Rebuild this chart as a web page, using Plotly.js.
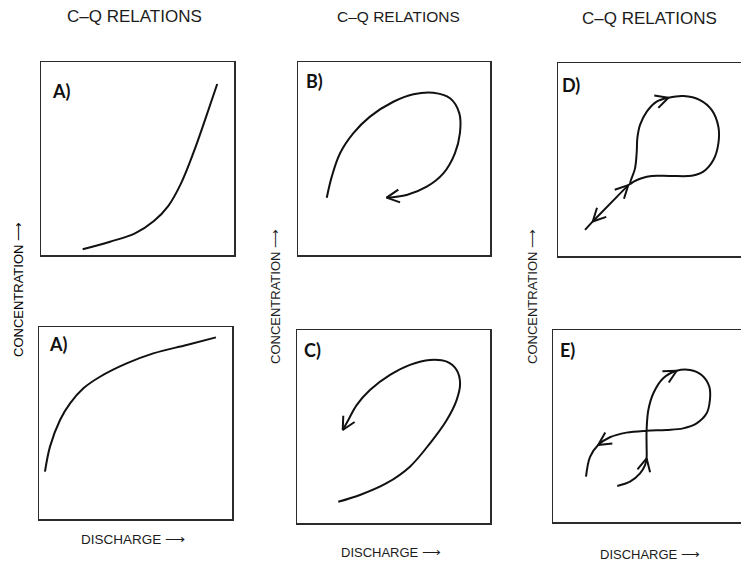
<!DOCTYPE html>
<html>
<head>
<meta charset="utf-8">
<script src="https://cdn.plot.ly/plotly-3.0.1.min.js"></script>
<style>
  html, body { margin: 0; padding: 0; background: #fff; }
  #chart { width: 741px; height: 562px; }
</style>
</head>
<body>
<div id="chart"></div>
<script>
// C–Q relation sketches. Curve coordinates are in box units (0 = left/bottom edge).

// A) concentration rising with discharge (concave up)
const aRiseX = [21.6, 35.8, 48.7, 58.5, 66.0, 72.5, 79.0, 85.0, 91.3];
const aRiseY = [3.0, 6.9, 11.2, 17.6, 25.5, 37.0, 53.0, 70.0, 88.6];

// A) concentration levelling off with discharge
const aSatX = [3.1, 5.7, 10.9, 16.1, 23.0, 31.6, 45.4, 59.2, 76.5, 91.7];
const aSatY = [24.5, 37.5, 51.3, 59.9, 67.7, 73.7, 80.6, 85.8, 90.2, 94.1];

// B) clockwise hysteresis loop
const bX = [14.9, 17.5, 21.8, 28.7, 37.3, 49.4, 59.8, 70.1, 78.8, 83.6, 83.9, 81.3, 75.3, 66.7, 56.3, 45.9];
const bY = [29.7, 40.6, 52.7, 63.1, 71.7, 79.4, 83.3, 84.1, 81.2, 73.4, 63.1, 52.7, 42.3, 35.4, 31.1, 29.7];

// C) anticlockwise hysteresis loop
const cX = [21.4, 32.6, 46.4, 58.5, 68.9, 77.6, 82.7, 84.5, 82.7, 77.6, 68.9, 58.5, 48.2, 37.8, 30.9, 26.6, 23.7];
const cY = [11.0, 14.5, 20.6, 29.2, 41.3, 53.4, 63.7, 72.4, 79.3, 83.6, 84.5, 81.9, 76.7, 68.9, 61.1, 53.4, 48.2];

// D) single loop on a shared rising/falling limb
const dStemX = [14.0, 18.0, 36.4, 37.3];
const dStemY = [13.5, 17.9, 36.7, 37.3];
const dLoopX = [37.3, 39.9, 40.8, 41.1, 42.5, 46.0, 51.1, 57.2, 65.0, 73.6, 79.7, 83.1, 83.1, 80.5, 75.3, 69.2, 58.0, 48.5, 43.3, 39.0, 37.3];
const dLoopY = [37.3, 45.4, 54.0, 60.9, 67.9, 74.8, 80.0, 82.0, 82.9, 80.8, 75.6, 67.0, 58.4, 49.7, 43.7, 41.6, 41.5, 41.5, 40.3, 38.4, 37.3];

// E) figure-of-eight
const eX = [33.3, 39.9, 45.1, 47.7, 48.5, 48.5, 48.5, 49.4, 52.0, 57.1, 64.1, 71.0, 77.0, 81.0, 81.3, 79.6, 74.4, 67.4, 58.8, 48.5, 38.1, 29.5, 23.4, 19.2, 17.1];
const eY = [18.7, 20.9, 25.2, 29.5, 33.0, 39.0, 47.7, 58.0, 66.7, 74.5, 78.4, 78.8, 76.2, 70.1, 63.2, 56.3, 51.1, 48.5, 47.7, 47.3, 46.3, 43.9, 39.9, 33.8, 23.5];

// Direction arrows: [curve point index, +1 = travel direction / -1 = against it]
const bArrows = [[15, 1]];
const cArrows = [[16, 1]];
const dStemArrows = [[1, -1], [2, 1]];
const dLoopArrows = [[7, 1]];
const eArrows = [[4, 1], [10, 1], [22, 1]];

// Text
const panelTitle = 'C\u2013Q RELATIONS';
const xLabel = 'DISCHARGE \u27F6';
const yLabel = 'CONCENTRATION \u27F6';
const panelTags = ['A)', 'A)', 'B)', 'C)', 'D)', 'E)'];

// ---- layout geometry (pixels) ----
const W = 741, H = 562;
const PX_PER_UNIT = 1.93;
// [left, top, right, bottom] of each panel box
const boxes = [
  [41, 62, 234, 255],
  [39, 327, 232, 519],
  [298, 62, 490, 255],
  [297, 330, 490, 523],
  [558, 63, 741, 256],
  [553, 330, 741, 522]
];
const openRight = [false, false, false, false, true, true];

const INK = '#111111';
const FRAME = '#2b2b2b';

const traces = [];
const layout = {
  width: W, height: H,
  margin: { l: 0, r: 0, t: 0, b: 0 },
  paper_bgcolor: '#ffffff',
  plot_bgcolor: '#ffffff',
  showlegend: false,
  annotations: []
};

boxes.forEach((b, k) => {
  const n = k + 1;
  const xa = n === 1 ? 'xaxis' : 'xaxis' + n;
  const ya = n === 1 ? 'yaxis' : 'yaxis' + n;
  const common = {
    showgrid: false, zeroline: false, showticklabels: false, ticks: '',
    showline: true, linecolor: FRAME, linewidth: 1.5, fixedrange: true
  };
  layout[xa] = Object.assign({}, common, {
    domain: [b[0] / W, b[2] / W],
    range: [0, (b[2] - b[0]) / PX_PER_UNIT],
    anchor: 'y' + (n === 1 ? '' : n),
    mirror: true
  });
  layout[ya] = Object.assign({}, common, {
    domain: [1 - b[3] / H, 1 - b[1] / H],
    range: [0, (b[3] - b[1]) / PX_PER_UNIT],
    anchor: 'x' + (n === 1 ? '' : n),
    mirror: !openRight[k]
  });
});

function axisRefs(panel) {
  return panel === 1 ? { xaxis: 'x', yaxis: 'y' } : { xaxis: 'x' + panel, yaxis: 'y' + panel };
}

function curve(panel, xs, ys, shape) {
  traces.push(Object.assign({
    type: 'scatter', mode: 'lines', x: xs, y: ys, hoverinfo: 'skip',
    line: { color: INK, width: 2, shape: shape || 'spline', smoothing: 1 }
  }, axisRefs(panel)));
}

// Open V-shaped arrowhead at a curve point, aligned with the local chord
const BARB_LEN = 7.4;
const BARB_ANG = 27 * Math.PI / 180;
function arrowheads(panel, xs, ys, list) {
  list.forEach(([i, dir]) => {
    const j = dir > 0 ? i - 1 : i + 1;
    let ux = xs[i] - xs[j], uy = ys[i] - ys[j];
    const len = Math.hypot(ux, uy);
    ux /= len; uy /= len;
    const px = [], py = [];
    [1, -1].forEach((s, m) => {
      const c = Math.cos(s * BARB_ANG), sn = Math.sin(s * BARB_ANG);
      const rx = ux * c - uy * sn, ry = ux * sn + uy * c;
      const bx = xs[i] - BARB_LEN * rx, by = ys[i] - BARB_LEN * ry;
      if (m === 0) { px.push(bx, xs[i]); py.push(by, ys[i]); }
      else { px.push(bx); py.push(by); }
    });
    traces.push(Object.assign({
      type: 'scatter', mode: 'lines', x: px, y: py, hoverinfo: 'skip',
      line: { color: INK, width: 2, shape: 'linear' }
    }, axisRefs(panel)));
  });
}

curve(1, aRiseX, aRiseY);
curve(2, aSatX, aSatY);
curve(3, bX, bY);            arrowheads(3, bX, bY, bArrows);
curve(4, cX, cY);            arrowheads(4, cX, cY, cArrows);
curve(5, dStemX, dStemY, 'linear'); arrowheads(5, dStemX, dStemY, dStemArrows);
curve(5, dLoopX, dLoopY);    arrowheads(5, dLoopX, dLoopY, dLoopArrows);
curve(6, eX, eY);            arrowheads(6, eX, eY, eArrows);

// ---- text ----
const TEXT_FONT = 'Liberation Sans, Arial, sans-serif';
function label(text, cx, cy, size, opts) {
  layout.annotations.push(Object.assign({
    text: text, xref: 'paper', yref: 'paper',
    x: cx / W, y: 1 - cy / H, xanchor: 'center', yanchor: 'middle',
    showarrow: false,
    font: { family: TEXT_FONT, size: size, color: '#1c1c1c' }
  }, opts || {}));
}

// column headings
label(panelTitle, 134, 17, 17);
label(panelTitle, 398, 17, 15.5);
label(panelTitle, 649, 18.5, 17);

// discharge axis labels
label(xLabel, 133, 539, 13.5);
label(xLabel, 391, 552, 13);
label(xLabel, 650, 554, 13);

// concentration axis labels
label(yLabel, 18, 290, 13, { textangle: -90, font: { family: TEXT_FONT, size: 13, color: '#000' } });
label(yLabel, 275, 297, 13, { textangle: -90 });
label(yLabel, 532, 297, 13, { textangle: -90 });

// panel tags
const tagPos = [[61, 91], [58, 344], [314, 81], [312, 350], [571, 85], [567, 350]];
panelTags.forEach((t, k) => {
  label(t, tagPos[k][0], tagPos[k][1], 18, {
    font: { family: 'Lato, Open Sans, sans-serif', size: 18, color: '#111', weight: 'bold' }
  });
});

Plotly.newPlot('chart', traces, layout, { staticPlot: true, displayModeBar: false });
</script>
</body>
</html>
